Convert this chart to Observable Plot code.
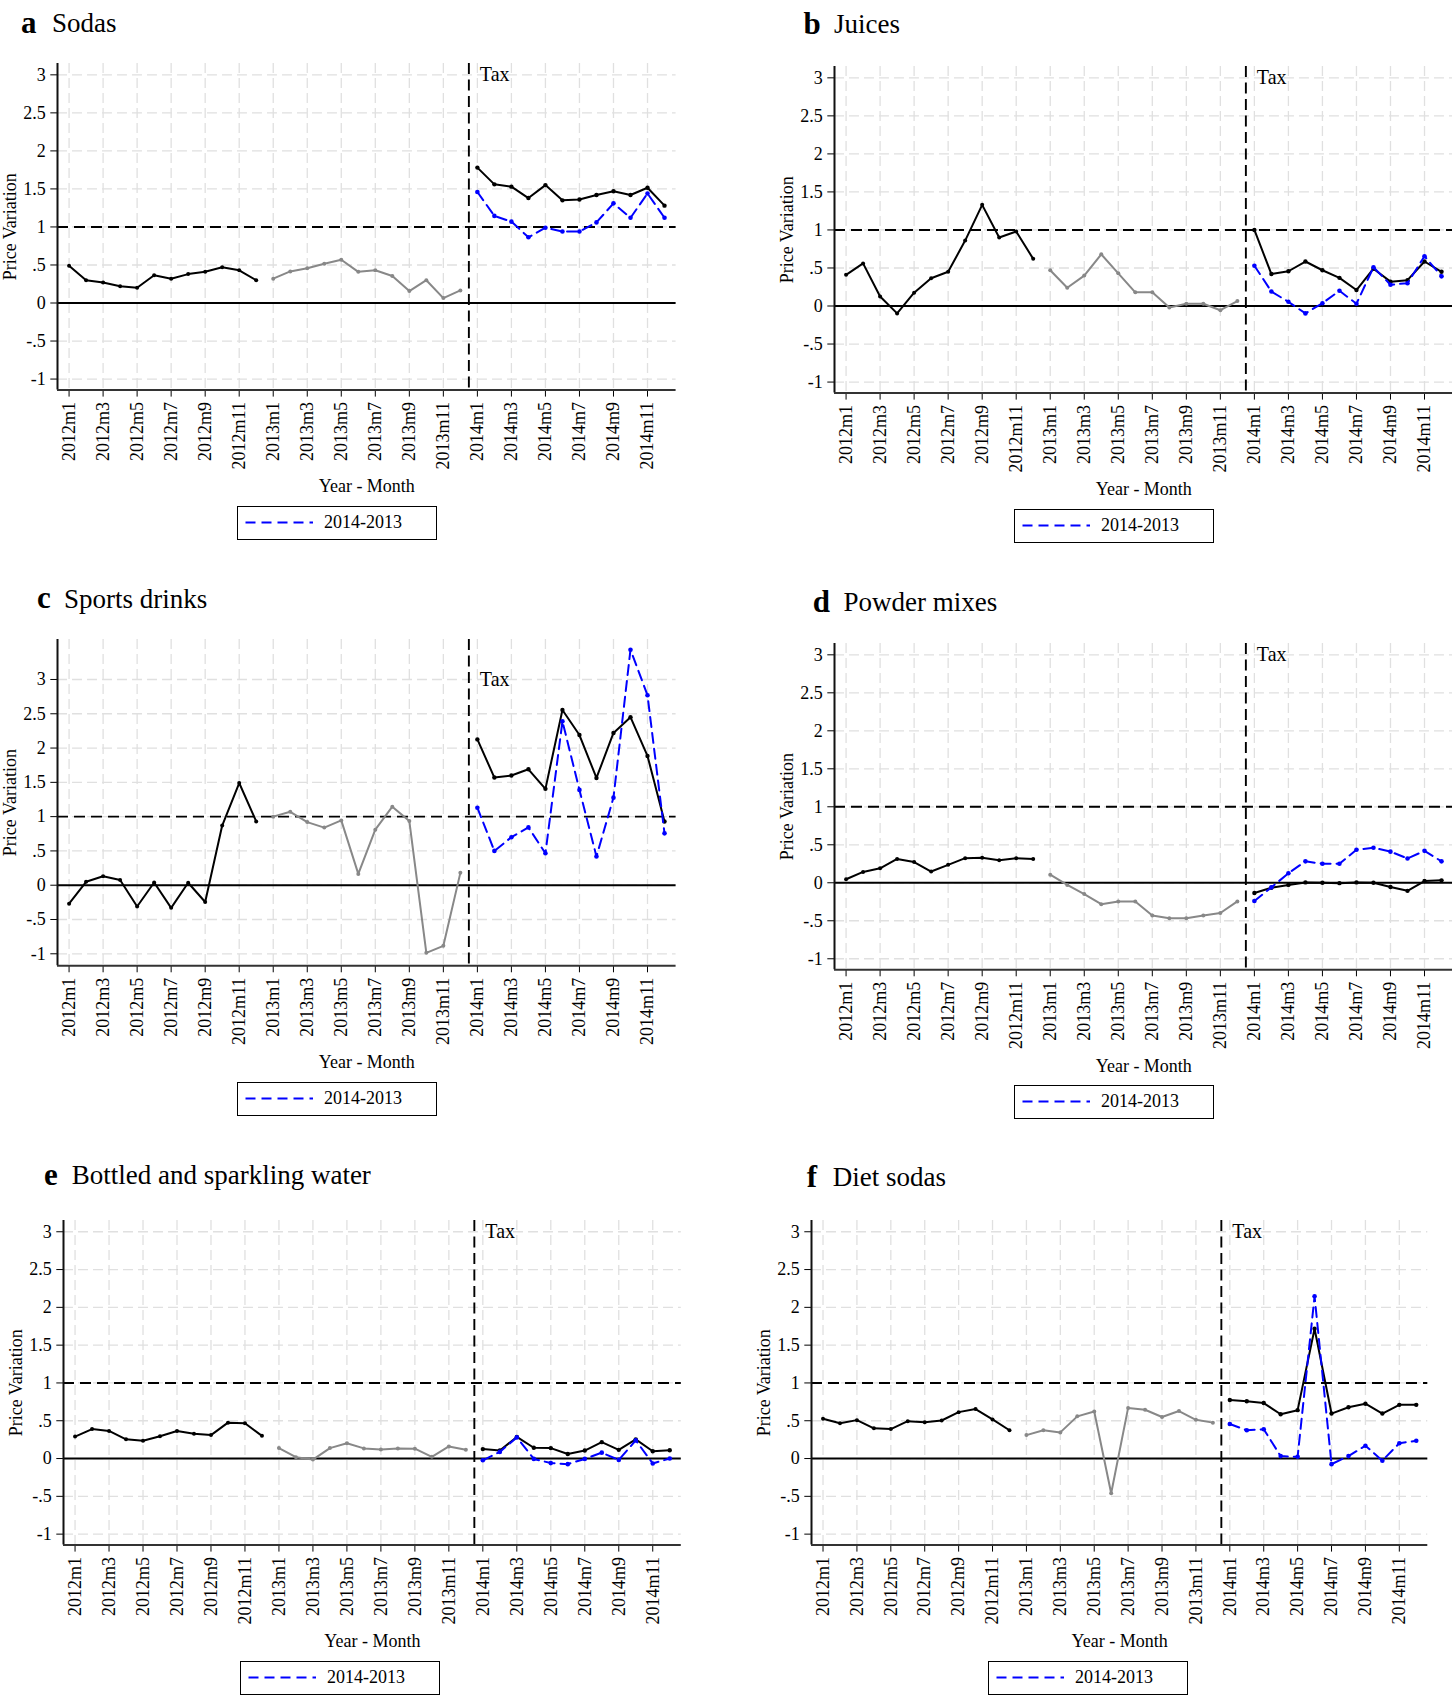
<!DOCTYPE html>
<html><head><meta charset="utf-8">
<script src="https://cdn.jsdelivr.net/npm/d3@7"></script>
<script src="https://cdn.jsdelivr.net/npm/@observablehq/plot@0.6"></script>
<style>
html,body{margin:0;padding:0;background:#fff;}
#page{position:relative;width:1452px;height:1695px;overflow:hidden;background:#fff;font-family:"Liberation Serif","Times New Roman",serif;color:#000;}
.abs{position:absolute;white-space:nowrap;line-height:1;}
.legend{position:absolute;box-sizing:border-box;border:1.6px solid #000;width:200px;height:34px;background:#fff;}
.legend .lt{position:absolute;left:86px;top:0;line-height:31px;font-size:18px;}
.legend svg{position:absolute;left:0;top:0;}
</style></head><body><div id="page"></div>
<script>
// ---- categories / tick labels ----
const xTickIdx = [0,2,4,6,8,10,12,14,16,18,20,22,24,26,28,30,32,34];
const xTickLabels = ["2012m1","2012m3","2012m5","2012m7","2012m9","2012m11",
  "2013m1","2013m3","2013m5","2013m7","2013m9","2013m11",
  "2014m1","2014m3","2014m5","2014m7","2014m9","2014m11"];
const yTickVals = [-1,-0.5,0,0.5,1,1.5,2,2.5,3];
const yTickLabels = ["-1","-.5","0",".5","1","1.5","2","2.5","3"];
const taxLine = 23.5;
const legendLabel = "2014-2013";

// ---- series values ----
const sodas2012 = [0.49,0.30,0.27,0.22,0.20,0.365,0.32,0.38,0.41,0.47,0.43,0.30];
const sodas2013 = [0.32,0.415,0.457,0.517,0.568,0.41,0.43,0.356,0.157,0.30,0.065,0.166];
const sodas2014 = [1.78,1.56,1.53,1.38,1.55,1.35,1.36,1.42,1.47,1.42,1.515,1.28];
const sodasDiff = [1.46,1.145,1.07,0.864,0.99,0.94,0.94,1.06,1.31,1.12,1.44,1.12];

const juices2012 = [0.41,0.56,0.125,-0.097,0.175,0.365,0.45,0.86,1.33,0.90,0.98,0.62];
const juices2013 = [0.47,0.24,0.40,0.68,0.43,0.18,0.18,-0.02,0.03,0.03,-0.055,0.065];
const juices2014 = [1.0,0.42,0.457,0.585,0.47,0.37,0.21,0.49,0.32,0.34,0.585,0.45];
const juicesDiff = [0.53,0.19,0.055,-0.097,0.037,0.2,0.03,0.51,0.28,0.30,0.655,0.39];

const sports2012 = [-0.27,0.05,0.13,0.077,-0.31,0.04,-0.33,0.036,-0.245,0.87,1.49,0.93];
const sports2013 = [1.0,1.07,0.92,0.84,0.945,0.165,0.81,1.145,0.935,-0.986,-0.884,0.18];
const sports2014 = [2.126,1.57,1.60,1.69,1.405,2.555,2.19,1.564,2.22,2.45,1.885,0.93];
const sportsDiff = [1.13,0.50,0.70,0.843,0.465,2.39,1.39,0.42,1.277,3.434,2.77,0.756];

const powder2012 = [0.046,0.143,0.19,0.314,0.273,0.148,0.236,0.324,0.328,0.296,0.324,0.314];
const powder2013 = [0.106,-0.028,-0.148,-0.282,-0.245,-0.245,-0.43,-0.467,-0.467,-0.43,-0.398,-0.245];
const powder2014 = [-0.134,-0.065,-0.028,0.005,0,-0.005,0.005,0,-0.055,-0.106,0.023,0.032];
const powderDiff = [-0.24,-0.06,0.125,0.282,0.25,0.25,0.435,0.462,0.41,0.32,0.42,0.282];

const water2012 = [0.29,0.39,0.365,0.254,0.235,0.295,0.365,0.328,0.31,0.475,0.466,0.30];
const water2013 = [0.138,0.018,-0.014,0.138,0.203,0.134,0.12,0.134,0.13,0.023,0.16,0.115];
const water2014 = [0.125,0.106,0.286,0.143,0.138,0.06,0.106,0.217,0.115,0.254,0.097,0.11];
const waterDiff = [-0.023,0.088,0.28,-0.005,-0.06,-0.074,-0.005,0.078,-0.018,0.24,-0.065,0];

const diet2012 = [0.526,0.466,0.508,0.40,0.39,0.494,0.48,0.503,0.614,0.655,0.517,0.374];
const diet2013 = [0.31,0.374,0.346,0.558,0.623,-0.46,0.67,0.646,0.55,0.628,0.512,0.475];
const diet2014 = [0.775,0.757,0.734,0.586,0.64,1.717,0.595,0.678,0.725,0.595,0.71,0.71];
const dietDiff = [0.457,0.374,0.388,0.032,0.023,2.146,-0.074,0.032,0.17,-0.028,0.203,0.235];

// ---- layout ----
const xDomain = [-0.68, 35.68];
const panels = [
  {letter:"a", name:"Sodas", s12:sodas2012, s13:sodas2013, s14:sodas2014, diff:sodasDiff,
   yDomain:[-1.145,3.149], box:[56.7,62.7,675.3,389.3], title:[21,52,33], legend:[237,506]},
  {letter:"b", name:"Juices", s12:juices2012, s13:juices2013, s14:juices2014, diff:juicesDiff,
   yDomain:[-1.145,3.149], box:[834,66.1,1452.6,392.7], title:[803.6,834,34], legend:[1014,509]},
  {letter:"c", name:"Sports drinks", s12:sports2012, s13:sports2013, s14:sports2014, diff:sportsDiff,
   yDomain:[-1.175,3.583], box:[56.7,639.3,675.3,965.6], title:[37,64,608.3], legend:[237,1082]},
  {letter:"d", name:"Powder mixes", s12:powder2012, s13:powder2013, s14:powder2014, diff:powderDiff,
   yDomain:[-1.145,3.149], box:[834,642.5,1452.6,968.8], title:[812.7,843.5,612], legend:[1014,1085]},
  {letter:"e", name:"Bottled and sparkling water", s12:water2012, s13:water2013, s14:water2014, diff:waterDiff,
   yDomain:[-1.145,3.149], box:[62.7,1220.4,680.5,1545], title:[44,71.7,1185], legend:[240,1661]},
  {letter:"f", name:"Diet sodas", s12:diet2012, s13:diet2013, s14:diet2014, diff:dietDiff,
   yDomain:[-1.145,3.149], box:[810.7,1220.4,1427,1545], title:[806.7,832.7,1187], legend:[988,1661]}
];

const page = document.getElementById("page");
const FONT = '"Liberation Serif","Times New Roman",serif';

function addText(txt, x, baseline, fs, bold) {
  const d = document.createElement("div");
  d.className = "abs";
  d.textContent = txt;
  d.style.left = x + "px";
  d.style.top = (baseline - 0.8375 * fs) + "px";
  d.style.fontSize = fs + "px";
  d.style.fontFamily = FONT;
  if (bold) d.style.fontWeight = "bold";
  page.appendChild(d);
}

function drawPanel(p) {
  const [L, T, R, B] = p.box;
  const mL = 60, mT = 20, mR = 4, mB = 112;
  const pts = (arr, start) => arr.map((v, k) => ({x: start + k, y: v}));
  const d12 = pts(p.s12, 0), d13 = pts(p.s13, 12), d14 = pts(p.s14, 24), dd = pts(p.diff, 24);
  const gridStyle = {stroke: "#e0e0e0", strokeWidth: 1.3, strokeDasharray: "10,5"};
  const chart = Plot.plot({
    width: (R - L) + mL + mR,
    height: (B - T) + mT + mB,
    marginLeft: mL, marginRight: mR, marginTop: mT, marginBottom: mB,
    style: {fontFamily: FONT, fontSize: "18px", background: "transparent", color: "#000", overflow: "visible"},
    x: {domain: xDomain, ticks: xTickIdx, tickFormat: i => xTickLabels[xTickIdx.indexOf(i)],
        tickRotate: -90, tickSize: 7, tickPadding: 5, label: null},
    y: {domain: p.yDomain, ticks: yTickVals, tickFormat: v => yTickLabels[yTickVals.indexOf(v)],
        tickSize: 6.7, tickPadding: 5, label: null},
    marks: [
      Plot.ruleX(xTickIdx, gridStyle),
      Plot.ruleY(yTickVals, gridStyle),
      Plot.ruleY([1], {stroke: "#000", strokeWidth: 1.9, strokeDasharray: "11,6"}),
      Plot.ruleY([0], {stroke: "#000", strokeWidth: 2}),
      Plot.ruleX([taxLine], {stroke: "#000", strokeWidth: 1.9, strokeDasharray: "11,5.5"}),
      Plot.line(d12, {x: "x", y: "y", stroke: "#000", strokeWidth: 2}),
      Plot.dot(d12, {x: "x", y: "y", r: 2, fill: "#000"}),
      Plot.line(d13, {x: "x", y: "y", stroke: "#888", strokeWidth: 2}),
      Plot.dot(d13, {x: "x", y: "y", r: 2, fill: "#888"}),
      Plot.line(d14, {x: "x", y: "y", stroke: "#000", strokeWidth: 2}),
      Plot.dot(d14, {x: "x", y: "y", r: 2.2, fill: "#000"}),
      Plot.line(dd, {x: "x", y: "y", stroke: "#0000ff", strokeWidth: 2, strokeDasharray: "10,6"}),
      Plot.dot(dd, {x: "x", y: "y", r: 2.3, fill: "#0000ff"}),
      Plot.ruleX([xDomain[0]], {stroke: "#111", strokeWidth: 2}),
      Plot.ruleY([p.yDomain[0]], {stroke: "#333", strokeWidth: 2}),
      Plot.text([{x: taxLine, y: 3}], {x: "x", y: "y", text: () => "Tax", textAnchor: "start", lineAnchor: "middle", dx: 11, fontSize: 20}),
      Plot.text(["Price Variation"], {frameAnchor: "left", textAnchor: "middle", lineAnchor: "middle", dx: -47, rotate: -90, fontSize: 18}),
      Plot.text(["Year - Month"], {frameAnchor: "bottom", textAnchor: "middle", lineAnchor: "middle", dy: 96.5, fontSize: 18})
    ]
  });
  chart.style.position = "absolute";
  chart.style.left = (L - mL) + "px";
  chart.style.top = (T - mT) + "px";
  page.appendChild(chart);

  // title
  addText(p.letter, p.title[0], p.title[2], 31, true);
  addText(p.name, p.title[1], p.title[2], 27, false);

  // legend box
  const lg = document.createElement("div");
  lg.className = "legend";
  lg.style.left = p.legend[0] + "px";
  lg.style.top = p.legend[1] + "px";
  lg.innerHTML = '<svg width="200" height="31"><line x1="7.5" x2="75" y1="15.5" y2="15.5" stroke="#0000ff" stroke-width="2" stroke-dasharray="10,6"/></svg><div class="lt">' + legendLabel + '</div>';
  lg.style.fontFamily = FONT;
  page.appendChild(lg);
}

panels.forEach(drawPanel);
</script></body></html>
